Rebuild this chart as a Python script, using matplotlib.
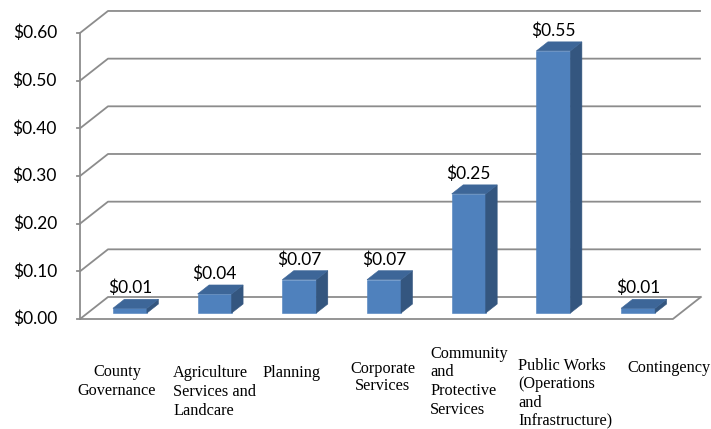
import matplotlib.pyplot as plt
from matplotlib.patches import Polygon

# data
categories = ["County\nGovernance",
              "Agriculture\nServices and\nLandcare",
              "Planning",
              "Corporate\nServices",
              "Community\nand\nProtective\nServices",
              "Public Works\n(Operations\nand\nInfrastructure)",
              "Contingency"]
values = [0.01, 0.04, 0.07, 0.07, 0.25, 0.55, 0.01]
ticks = [0.0, 0.1, 0.2, 0.3, 0.4, 0.5, 0.6]
tick_labels = ["$%.2f" % t for t in ticks]

# layout (pixels of a 711x429 canvas)
W, H = 711, 429
X0, Y0 = 80, 319          # front-left corner of floor
SX, SY = 84.7, 476.7      # px per category slot / per value unit
DX, DY = 28 / SX, 22 / SY # depth of the 3d box in data units
F0, BD = 0.27, 0.41       # bar start depth / bar depth (fraction)
BW = 34 / SX              # bar width

# category label layout: (anchor px, alignment, first baseline px, line step px)
label_pos = [(117, "center", 376, 19), (173, "left", 377, 19),
             (262, "left", 377, 19), (383, "center", 373, 17),
             (430, "left", 358, 18.5), (518, "left", 370, 18.3),
             (627, "left", 372, 19)]

front_c = "#4F81BD"
top_c = "#3D6698"
side_c = "#34567F"
grid_c = "#8C8C8C"


def px(x):
    return (x - X0) / SX


def py(y):
    return (Y0 - y) / SY


fig = plt.figure(figsize=(W / 100, H / 100), dpi=100)
ax = fig.add_axes([0, 0, 1, 1])
ax.set_xlim(px(0), px(W))
ax.set_ylim(py(H), py(0))
ax.axis("off")

n = len(categories)

# walls / gridlines
for t, lab in zip(ticks, tick_labels):
    ax.plot([0, DX, n + DX], [t, t + DY, t + DY], color=grid_c, lw=1.3,
            solid_capstyle="butt", zorder=1)
    ax.plot([px(77), 0], [t, t], color=grid_c, lw=1.3, zorder=1)
    ax.text(px(57), t, lab, ha="right", va="center", fontsize=12.5,
            family="Lato", color="black")
ax.plot([0, 0], [0, ticks[-1]], color=grid_c, lw=1.3, zorder=1)
ax.plot([0, n, n + DX], [0, 0, DY], color=grid_c, lw=1.3, zorder=1)

# bars
for i, v in enumerate(values):
    x1 = i + 0.5 - BW / 2 + F0 * DX
    x2 = x1 + BW
    yb = F0 * DY
    yt = yb + v
    ddx, ddy = BD * DX, BD * DY
    ax.add_patch(Polygon([(x1, yb), (x2, yb), (x2, yt), (x1, yt)],
                         closed=True, fc=front_c, ec=front_c, lw=0.4, zorder=3))
    ax.add_patch(Polygon([(x2, yb), (x2 + ddx, yb + ddy), (x2 + ddx, yt + ddy),
                          (x2, yt)],
                         closed=True, fc=side_c, ec=side_c, lw=0.4, zorder=3))
    ax.add_patch(Polygon([(x1, yt), (x2, yt), (x2 + ddx, yt + ddy),
                          (x1 + ddx, yt + ddy)],
                         closed=True, fc=top_c, ec=top_c, lw=0.4, zorder=3))
    ax.annotate("$%.2f" % v, xy=((x1 + x2) / 2, yt + ddy), xytext=(0, 3),
                textcoords="offset pixels", ha="center", va="bottom",
                fontsize=12.5, family="Lato", color="black", zorder=4)

# category labels
for lab, (xa, al, yb0, step) in zip(categories, label_pos):
    for k, line in enumerate(lab.split("\n")):
        ax.text(px(xa), py(yb0 + k * step), line, ha=al, va="baseline",
                fontsize=11.7, family="Liberation Serif", color="black")

fig.savefig("out.png", dpi=100)
